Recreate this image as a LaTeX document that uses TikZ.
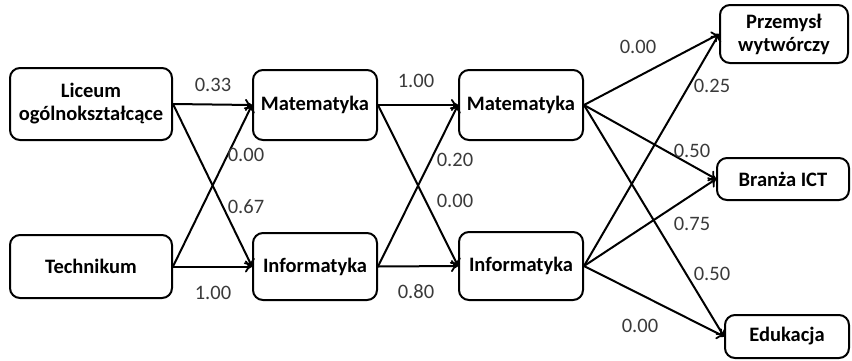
\documentclass[tikz,border=0pt]{standalone}
\usepackage{fontspec}
\setmainfont{Carlito}
\usetikzlibrary{arrows.meta}
\definecolor{lbl}{HTML}{3A3A3A}
\tikzset{
  box/.style={draw=black, line width=2pt, rounded corners=10pt, align=center,
    font=\fontsize{20.5}{23}\selectfont\bfseries, inner sep=0pt},
  wt/.style={text=lbl, font=\fontsize{20.5}{22}\selectfont, inner sep=0pt},
  arr/.style={line width=2pt, -{To[length=7pt,width=12pt,line width=1.8pt]}}
}
\begin{document}
\begin{tikzpicture}[x=1pt,y=-1pt]
\useasboundingbox (0,0) rectangle (852,360);
\node[box, minimum width=162pt, minimum height=72pt] (lic) at (91,104) {Liceum\\ogólnokształcące};
\node[box, minimum width=162pt, minimum height=63pt] (tech) at (91,266.5) {Technikum};
\node[box, minimum width=124pt, minimum height=70pt] (mat1) at (315,105) {Matematyka};
\node[box, minimum width=124pt, minimum height=67pt] (inf1) at (315,266.5) {Informatyka};
\node[box, minimum width=124pt, minimum height=70pt] (mat2) at (521,105) {Matematyka};
\node[box, minimum width=124pt, minimum height=68pt] (inf2) at (521,266) {Informatyka};
\node[box, minimum width=128pt, minimum height=58pt] (prz) at (784,34) {Przemysł\\wytwórczy};
\node[box, minimum width=132pt, minimum height=42pt] (ict) at (783,179) {Branża ICT};
\node[box, minimum width=124pt, minimum height=43pt] (edu) at (787,336.5) {Edukacja};

\draw[arr] (lic.east) -- (mat1.west);
\draw[arr] (lic.east) -- (inf1.west);
\draw[arr] (tech.east) -- (mat1.west);
\draw[arr] (tech.east) -- (inf1.west);
\draw[arr] (mat1.east) -- (mat2.west);
\draw[arr] (mat1.east) -- (inf2.west);
\draw[arr] (inf1.east) -- (mat2.west);
\draw[arr] (inf1.east) -- (inf2.west);
\draw[arr] (mat2.east) -- (prz.west);
\draw[arr] (mat2.east) -- (ict.west);
\draw[arr] (mat2.east) -- (edu.west);
\draw[arr] (inf2.east) -- (prz.west);
\draw[arr] (inf2.east) -- (ict.west);
\draw[arr] (inf2.east) -- (edu.west);

\node[wt] (l1) at (213,85) {0.33};
\node[wt] (l2) at (246,155) {0.00};
\node[wt] (l3) at (246,207) {0.67};
\node[wt] (l4) at (213,293) {1.00};
\node[wt] (l5) at (416,81) {1.00};
\node[wt] (l6) at (455,160) {0.20};
\node[wt] (l7) at (455,201) {0.00};
\node[wt] (l8) at (416,292) {0.80};
\node[wt] (l9) at (638,47) {0.00};
\node[wt] (l10) at (712,86) {0.25};
\node[wt] (l11) at (692,151) {0.50};
\node[wt] (l12) at (692,224) {0.75};
\node[wt] (l13) at (712,274) {0.50};
\node[wt] (l14) at (640,326) {0.00};
\end{tikzpicture}
\end{document}
